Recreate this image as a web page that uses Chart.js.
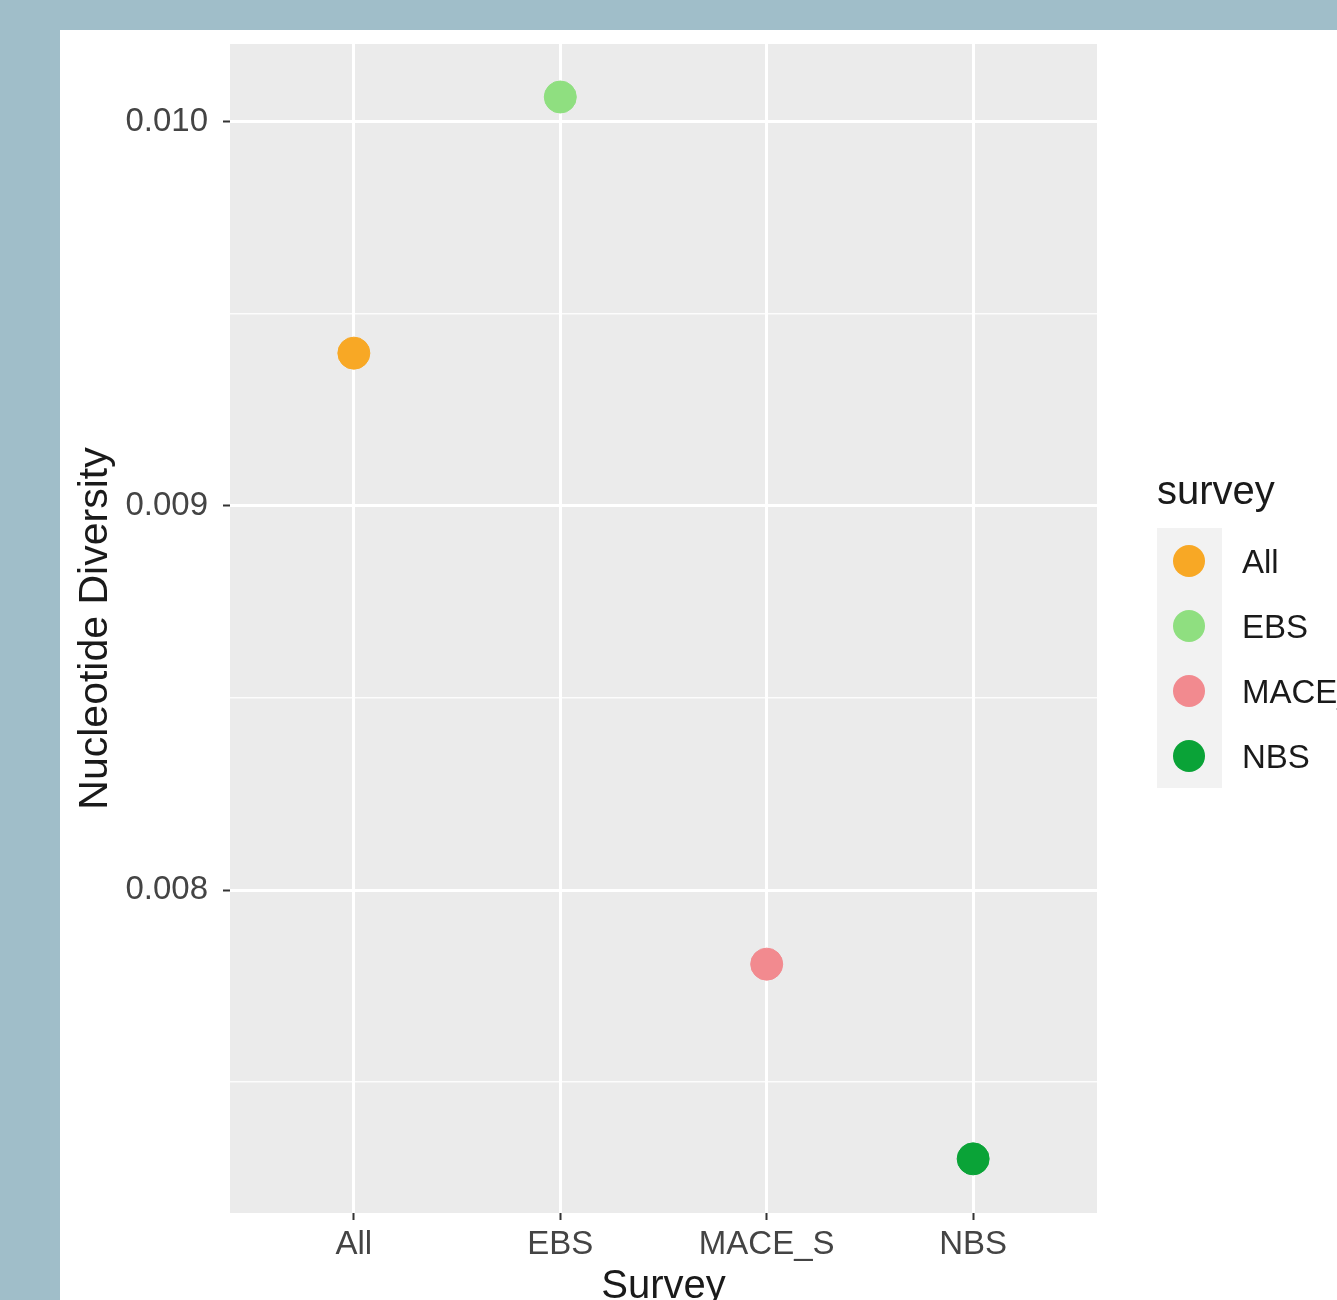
<!DOCTYPE html>
<html>
<head>
<meta charset="utf-8">
<script src="https://cdn.jsdelivr.net/npm/chart.js@4.4.1/dist/chart.umd.min.js"></script>
<style>
  html, body { margin: 0; padding: 0; background: #a0bec9; }
  #wrap { position: relative; width: 1337px; height: 1300px; overflow: hidden; }
  #chart { position: absolute; left: 0; top: 0; }
  #legend { position: absolute; left: 1157px; top: 466px; font-family: "Liberation Sans", Arial, sans-serif; }
  #legend .title { font-size: 40px; color: #1a1a1a; height: 62px; line-height: 48px; }
  #legend .row { position: relative; height: 65px; }
  #legend .key { position: absolute; left: 0; top: 0; width: 65px; height: 65px; background: #f2f2f2; }
  #legend .dot { position: absolute; left: 16px; top: 17px; width: 32px; height: 32px; border-radius: 50%; }
  #legend .lab { position: absolute; left: 85px; top: 15px; font-size: 33px; color: #1a1a1a; white-space: nowrap; }
</style>
</head>
<body>
<div id="wrap">
  <canvas id="chart" width="1337" height="1300"></canvas>
  <div id="legend"></div>
</div>
<script>
// DATA
const categories = ["All", "EBS", "MACE_S", "NBS"];
const diversity = [0.009398, 0.010065, 0.007807, 0.0073];
const colors = ["#f8a825", "#8fdf80", "#f28a8f", "#0aa337"];
const yTicks = [0.0075, 0.008, 0.0085, 0.009, 0.0095, 0.010];
const yMajor = [0.008, 0.009, 0.010];

const FONT = "'Liberation Sans', Arial, sans-serif";
const isMajor = (v) => yMajor.some((m) => Math.abs(m - v) < 1e-9);

// FONDO: banda azul, lienzo blanco y panel gris
const backgroundPlugin = {
  id: "bg",
  beforeDraw(chart) {
    const ctx = chart.ctx, a = chart.chartArea;
    ctx.save();
    ctx.fillStyle = "#a0bec9";
    ctx.fillRect(0, 0, chart.width, chart.height);
    ctx.fillStyle = "#ffffff";
    ctx.fillRect(60, 30, chart.width - 60, chart.height - 30);
    ctx.fillStyle = "#ebebeb";
    ctx.fillRect(a.left, a.top, a.right - a.left, a.bottom - a.top);
    ctx.restore();
  },
};

const datasets = categories.map((cat, i) => ({
  label: cat,
  data: [{ x: i + 1, y: diversity[i] }],
  backgroundColor: colors[i],
  borderColor: colors[i],
  pointRadius: 16,
  pointHoverRadius: 16,
}));

new Chart(document.getElementById("chart"), {
  type: "scatter",
  data: { datasets },
  options: {
    responsive: false,
    animation: false,
    layout: { padding: { left: 60, top: 44, right: 240, bottom: 0 } },
    plugins: { legend: { display: false }, tooltip: { enabled: false } },
    scales: {
      x: {
        type: "linear",
        min: 0.4,
        max: 4.6,
        afterBuildTicks: (s) => { s.ticks = categories.map((c, i) => ({ value: i + 1 })); },
        afterFit: (s) => { s.height = 87; },
        border: { display: false },
        grid: { color: "#ffffff", lineWidth: 3, tickColor: "#333333", tickWidth: 2, tickLength: 7 },
        ticks: {
          padding: 5,
          color: "#444444",
          font: { family: FONT, size: 33 },
          callback: (v) => categories[Math.round(v) - 1],
        },
        title: {
          display: true,
          text: "Survey",
          color: "#1a1a1a",
          font: { family: FONT, size: 40, lineHeight: 0.65 },
          padding: 0,
        },
      },
      y: {
        type: "linear",
        min: 0.007159,
        max: 0.010203,
        afterBuildTicks: (s) => { s.ticks = yTicks.map((v) => ({ value: v })); },
        afterFit: (s) => { s.width = 170; },
        border: { display: false },
        grid: {
          color: (c) => (isMajor(c.tick.value) ? "#ffffff" : "rgba(255,255,255,0.85)"),
          lineWidth: (c) => (isMajor(c.tick.value) ? 3 : 1.6),
          tickColor: (c) => (isMajor(c.tick.value) ? "#333333" : "rgba(0,0,0,0)"),
          tickWidth: 2,
          tickLength: 7,
        },
        ticks: {
          padding: 15,
          color: "#444444",
          font: { family: FONT, size: 33 },
          callback: (v) => (isMajor(v) ? v.toFixed(3) : ""),
        },
        title: {
          display: true,
          text: "Nucleotide Diversity",
          color: "#1a1a1a",
          font: { family: FONT, size: 41, lineHeight: 1 },
          padding: { top: 15, bottom: 0 },
        },
      },
    },
  },
  plugins: [backgroundPlugin],
});

// LEYENDA
const legend = document.getElementById("legend");
let html = '<div class="title">survey</div>';
categories.forEach((cat, i) => {
  html += `<div class="row"><div class="key"><div class="dot" style="background:${colors[i]}"></div></div><div class="lab">${cat}</div></div>`;
});
legend.innerHTML = html;
</script>
</body>
</html>
